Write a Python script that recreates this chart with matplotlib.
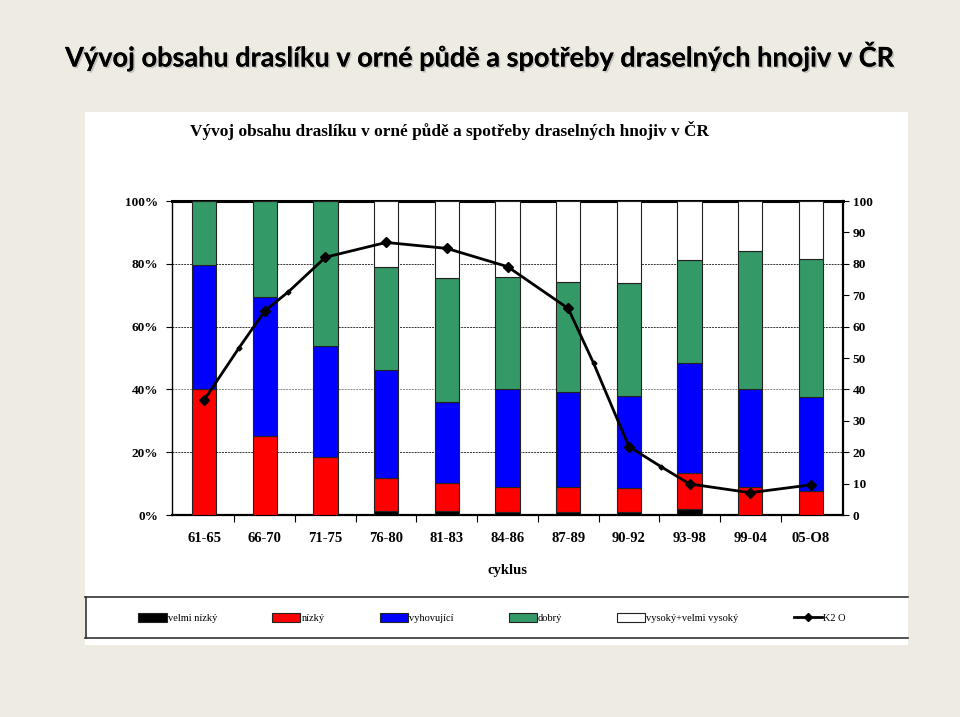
import numpy as np
import matplotlib
matplotlib.use("Agg")
import matplotlib.pyplot as plt
import matplotlib.patheffects as pe
from matplotlib.patches import Rectangle
from matplotlib.lines import Line2D
from matplotlib.ticker import FixedLocator

# cycles on the x axis
cycles = ["61-65", "66-70", "71-75", "76-80", "81-83", "84-86",
          "87-89", "90-92", "93-98", "99-04", "05-O8"]

# share of arable soil by potassium content class (%)
velmi_nizky = [0.0, 0.0, 0.0, 1.4, 1.3, 1.1, 1.1, 0.8, 1.8, 0.0, 0.0]
nizky = [40.0, 25.2, 18.6, 10.3, 9.0, 7.9, 7.7, 7.7, 11.7, 8.8, 7.6]
vyhovujici = [39.6, 44.3, 35.3, 34.5, 25.6, 31.2, 30.4, 29.5, 34.9, 31.3, 30.1]
dobry = [20.4, 30.5, 46.1, 32.9, 39.5, 35.7, 34.9, 35.8, 32.8, 44.1, 43.8]

# K2O fertiliser consumption (right axis); x given in cycle units
k2o_x = [0, 0.57, 1, 1.39, 2, 3, 4, 5, 6, 6.42, 7, 7.53, 8, 9, 10]
k2o = [36.6, 53.1, 65.0, 71.1, 82.1, 86.8, 84.9, 79.1, 65.8, 48.3,
       21.8, 15.4, 9.9, 7.1, 9.6]
k2o_main = [0, 2, 4, 5, 6, 7, 8, 10, 12, 13, 14]

legend_labels = ["velmi nízký", "nízký", "vyhovující", "dobrý",
                 "vysoký+velmi vysoký", "K2 O"]

COLORS = ["#000000", "#ff0000", "#0000ff", "#339966", "#ffffff"]
BG = "#eeece2"
SERIF = "Liberation Serif"

W, H = 960, 717
fig = plt.figure(figsize=(W / 100, H / 100), dpi=100, facecolor=BG)


def fx(px):
    return px / W


def fy(py):
    return 1 - py / H


# white picture panel
fig.patches.append(Rectangle((fx(85), fy(645)), fx(908) - fx(85), fy(112) - fy(645),
                             transform=fig.transFigure, facecolor="white",
                             edgecolor="none", zorder=-5))

# slide title with soft shadow
fig.text(0.5, fy(56), "Vývoj obsahu draslíku v orné půdě a spotřeby draselných hnojiv v ČR",
         ha="center", va="center", fontsize=19.5, fontweight="bold", family="Lato",
         color="black",
         path_effects=[pe.withSimplePatchShadow(offset=(1.2, -1.2), shadow_rgbFace="#999999",
                                                alpha=0.5), pe.Normal()])

# picture title
fig.text(fx(449), fy(130), "Vývoj obsahu draslíku v orné půdě a spotřeby draselných hnojiv v ČR",
         ha="center", va="center", fontsize=12.4, fontweight="bold", family=SERIF)

ax = fig.add_axes([fx(172), fy(515), fx(843) - fx(172), fy(201) - fy(515)])
ax.set_facecolor("white")
x = np.arange(len(cycles))
bottom = np.zeros(len(cycles))
handles = []
for vals, col in zip([velmi_nizky, nizky, vyhovujici, dobry], COLORS[:4]):
    vals = np.array(vals)
    b = ax.bar(x, vals, 0.4, bottom=bottom, color=col, edgecolor="#222222",
               linewidth=0.8, zorder=3)
    handles.append(b)
    bottom += vals
rest = 100 - bottom
b = ax.bar(x, rest, 0.4, bottom=bottom, color=COLORS[4], edgecolor="#222222",
           linewidth=0.8, zorder=3)
handles.append(b)

ax.set_xlim(-0.53, 10.53)
ax.set_ylim(0, 100)
ax.set_yticks([0, 20, 40, 60, 80, 100])
ax.set_yticklabels([f"{v}%" for v in range(0, 101, 20)])
ax.set_xticks(x)
ax.set_xticklabels(cycles)
ax.xaxis.set_minor_locator(FixedLocator(np.arange(0.5, 10.5, 1)))
ax.tick_params(axis="x", which="major", length=0, pad=12)
ax.tick_params(axis="x", which="minor", length=5, width=0.8, direction="out")
ax.tick_params(axis="y", length=4, width=0.8, direction="out", pad=6)
for lab in ax.get_xticklabels():
    lab.set_family(SERIF)
    lab.set_fontweight("bold")
    lab.set_fontsize(10.5)
for lab in ax.get_yticklabels():
    lab.set_family(SERIF)
    lab.set_fontweight("bold")
    lab.set_fontsize(9.5)
for v in [20, 40, 60, 80]:
    ax.axhline(v, color="#333333" if v != 40 else "#888888", lw=0.7,
               ls=(0, (2, 1)), zorder=1)
ax.spines["top"].set_linewidth(2.2)
ax.spines["bottom"].set_linewidth(1.6)
ax.spines["left"].set_linewidth(1.0)
ax.spines["right"].set_linewidth(1.6)
ax.set_xlabel("cyklus", family=SERIF, fontweight="bold", fontsize=10.5, labelpad=14)

ax2 = ax.twinx()
ax2.set_ylim(0, 100)
ax2.set_yticks(range(0, 101, 10))
ax2.tick_params(axis="y", length=4, width=0.8, direction="out", pad=3)
for lab in ax2.get_yticklabels():
    lab.set_family(SERIF)
    lab.set_fontweight("bold")
    lab.set_fontsize(9.5)
for s in ax2.spines.values():
    s.set_visible(False)
ax2.plot(k2o_x, k2o, color="black", lw=2, marker="D", markersize=2.5, zorder=5)
line, = ax2.plot([k2o_x[i] for i in k2o_main], [k2o[i] for i in k2o_main],
                 ls="none", color="black", marker="D", markersize=5, zorder=6)

# legend strip
for yy in [597, 638]:
    fig.lines.append(Line2D([fx(85), fx(908)], [fy(yy), fy(yy)], color="#333333",
                            lw=1.2, transform=fig.transFigure))
fig.lines.append(Line2D([fx(85.5), fx(85.5)], [fy(597), fy(638)], color="#333333",
                        lw=1.2, transform=fig.transFigure))
leg_line = Line2D([], [], color="black", lw=2, marker="D", markersize=4)
fig.legend(handles + [leg_line], legend_labels, loc="center", ncol=6,
           bbox_to_anchor=(fx(492), fy(618)), frameon=False,
           prop={"family": SERIF, "size": 7.5}, handlelength=2.7, handleheight=0.9,
           handletextpad=0.1, columnspacing=5.3)

fig.savefig("out.png", dpi=100, facecolor=BG)
